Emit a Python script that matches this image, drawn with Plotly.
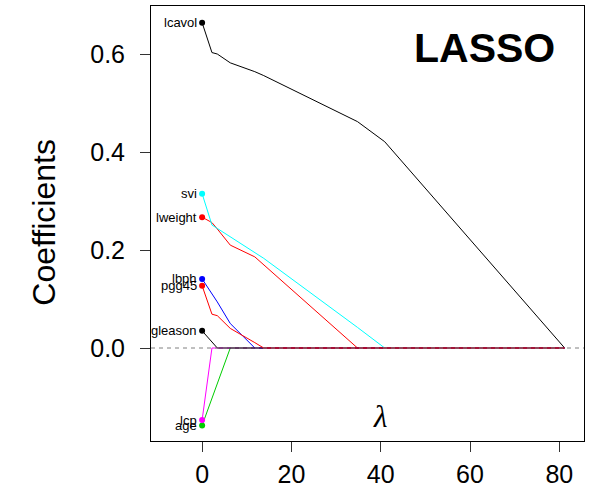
import plotly.graph_objects as go

# lambda knots of the path
lam = [0, 2.2, 3.4, 6.3, 11.8, 13.8, 34.8, 40.9, 81.2]

# coefficient paths (one list per variable)
lcavol  = [0.664, 0.603, 0.600, 0.582, 0.564, 0.556, 0.462, 0.421, 0.0]
lweight = [0.267, 0.256, 0.243, 0.210, 0.186, 0.170, 0.0, 0.0, 0.0]
age     = [-0.158, -0.103, -0.073, 0.0, 0.0, 0.0, 0.0, 0.0, 0.0]
lbph    = [0.141, 0.110, 0.094, 0.050, 0.0, 0.0, 0.0, 0.0, 0.0]
svi     = [0.315, 0.251, 0.244, 0.227, 0.195, 0.183, 0.042, 0.0, 0.0]
lcp     = [-0.147, 0.0, 0.0, 0.0, 0.0, 0.0, 0.0, 0.0, 0.0]
gleason = [0.035, 0.013, 0.0, 0.0, 0.0, 0.0, 0.0, 0.0, 0.0]
pgg45   = [0.127, 0.069, 0.066, 0.040, 0.011, 0.0, 0.0, 0.0, 0.0]

names = ["lcavol", "lweight", "age", "lbph", "svi", "lcp", "gleason", "pgg45"]
series = [lcavol, lweight, age, lbph, svi, lcp, gleason, pgg45]
palette = ["#000000", "#FF0000", "#00CD00", "#0000FF", "#00FFFF", "#FF00FF"]

x_ticks = [0, 20, 40, 60, 80]
y_ticks = [0.0, 0.2, 0.4, 0.6]
y_ticklabels = ["0.0", "0.2", "0.4", "0.6"]

FONT = "Liberation Sans, Arial, Helvetica, sans-serif"

fig = go.Figure()
for i, (nm, vals) in enumerate(zip(names, series)):
    col = palette[i % len(palette)]
    fig.add_trace(go.Scatter(x=lam, y=vals, mode="lines",
                             line=dict(color=col, width=1), hoverinfo="skip"))
for i, (nm, vals) in enumerate(zip(names, series)):
    col = palette[i % len(palette)]
    fig.add_trace(go.Scatter(x=[lam[0]], y=[vals[0]], mode="markers",
                             marker=dict(color=col, size=6), hoverinfo="skip"))
    fig.add_annotation(x=lam[0], y=vals[0], text=nm, showarrow=False,
                       xanchor="right", yanchor="middle", xshift=-3,
                       font=dict(family=FONT, size=13, color="#000000"))

fig.add_shape(type="line", xref="paper", x0=0, x1=1, yref="y", y0=0, y1=0,
              line=dict(color="#808080", width=1, dash="4px,4px"), layer="above")

fig.add_annotation(xref="paper", yref="paper", x=0.771, y=0.9034,
                   text="<b>LASSO</b>", showarrow=False,
                   xanchor="center", yanchor="middle",
                   font=dict(family=FONT, size=41, color="#000000"))
fig.add_annotation(x=39.8, y=-0.139, text="<i>λ</i>", showarrow=False,
                   xanchor="center", yanchor="middle",
                   font=dict(family="Liberation Serif, Times New Roman, serif", size=31, color="#000000"))
fig.add_annotation(xref="paper", yref="paper", x=-0.247, y=0.502,
                   text="Coefficients", showarrow=False, textangle=-90,
                   xanchor="center", yanchor="middle",
                   font=dict(family=FONT, size=32, color="#000000"))

axis_common = dict(showline=True, mirror=True, linecolor="#000000", linewidth=1,
                   ticks="outside", ticklen=10, tickcolor="#333333", tickwidth=1,
                   showgrid=False, zeroline=False,
                   tickfont=dict(family=FONT, size=25, color="#000000"))

fig.update_layout(
    width=608, height=488,
    margin=dict(l=151, r=24, t=6, b=47, autoexpand=False),
    paper_bgcolor="white", plot_bgcolor="white",
    showlegend=False, hovermode=False,
    xaxis=dict(range=[-11.45, 85.53], tickvals=x_ticks, ticklabelstandoff=1, **axis_common),
    yaxis=dict(range=[-0.1898, 0.698], tickvals=y_ticks, ticktext=y_ticklabels,
               ticklabelstandoff=10, **axis_common),
)

fig.write_html("out.html")
